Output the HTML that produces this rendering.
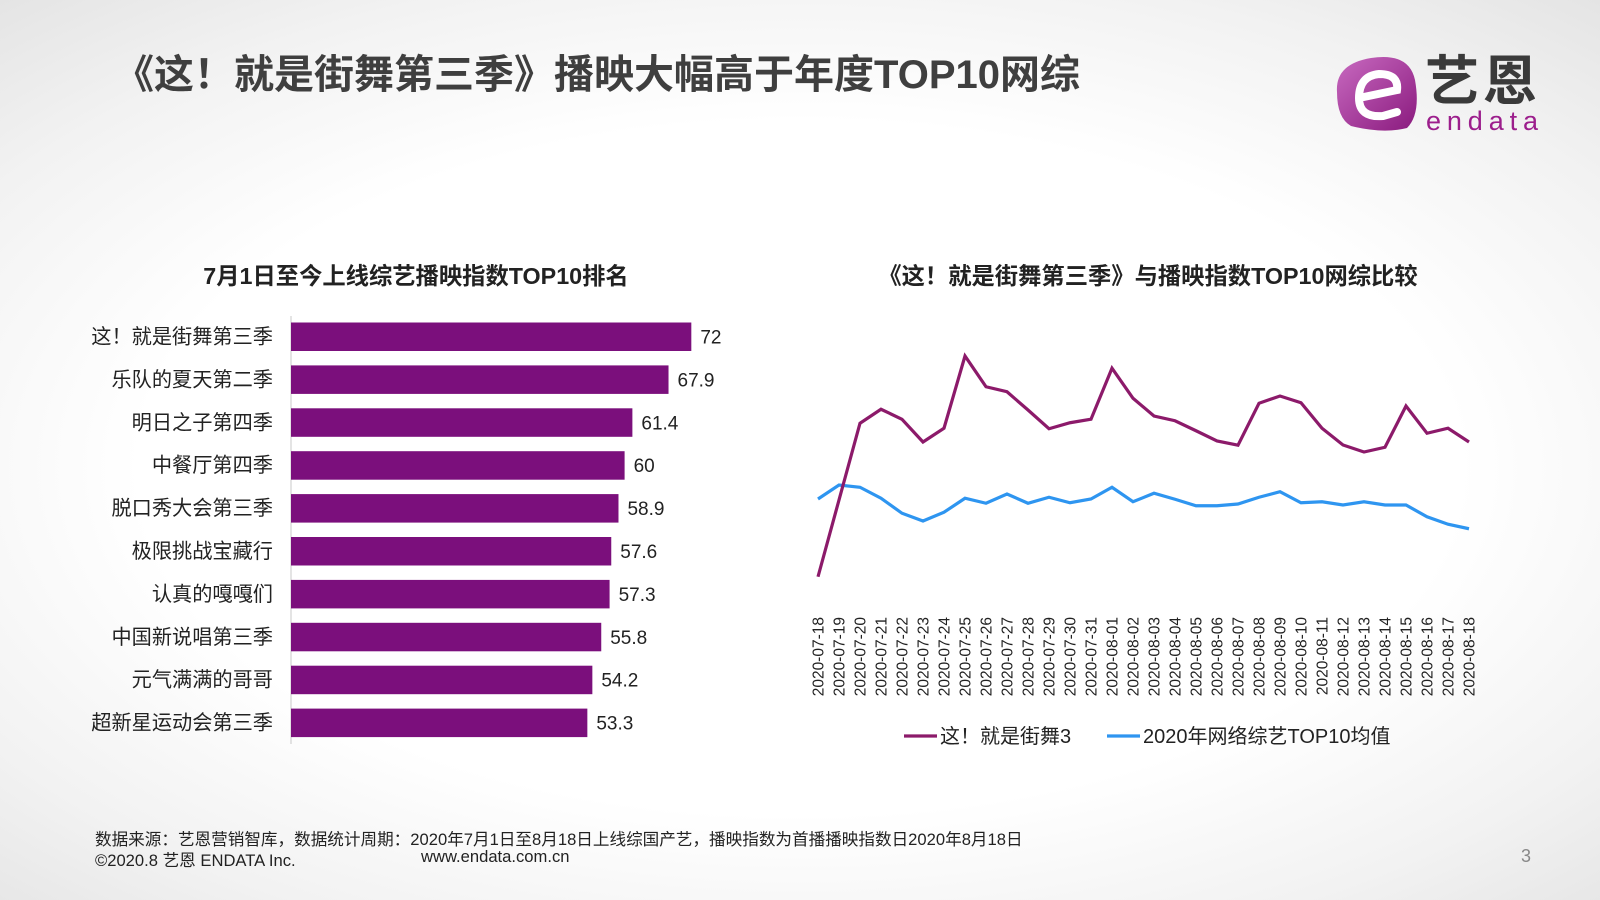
<!DOCTYPE html>
<html><head><meta charset="utf-8">
<style>
html,body{margin:0;padding:0}
body{width:1600px;height:900px;overflow:hidden;position:relative;font-family:"Liberation Sans","Noto Sans CJK SC",sans-serif;
background:radial-gradient(ellipse 75% 70% at 50% 52%,#ffffff 55%,#f2f2f2 80%,#e4e4e4 100%);}
.abs{position:absolute}
</style></head>
<body>
<div class="abs" style="left:114px;top:42px;font-size:40px;font-weight:bold;color:#3f3f3f;white-space:nowrap">《这！就是街舞第三季》播映大幅高于年度TOP10网综</div>

<svg class="abs" style="left:1333px;top:50px" width="220" height="90" viewBox="0 0 220 90">
  <defs><linearGradient id="lg" x1="0" y1="0" x2="1" y2="1"><stop offset="0" stop-color="#c86ac0"/><stop offset="1" stop-color="#8a1a7e"/></linearGradient></defs>
  <path d="M4 42 Q2 14 38 8 Q76 2 82 30 Q88 64 74 78 Q50 84 18 76 Q4 68 4 42Z" fill="url(#lg)"/>
  <path d="M26 48 L64 40 Q66 24 46 24 Q26 26 26 48 Q26 68 50 66 L64 62" fill="none" stroke="#fff" stroke-width="8" stroke-linecap="round"/>
  <text x="92" y="50" font-size="54" font-weight="bold" fill="#3a3a3a" font-family="Noto Sans CJK SC, sans-serif" textLength="112">艺恩</text>
  <text x="93" y="80" font-size="27" fill="#9c1e8c" font-family="Liberation Sans, sans-serif" textLength="112">endata</text>
</svg>

<div class="abs" style="left:166px;top:257px;width:500px;text-align:center;font-size:23.3px;font-weight:bold;color:#222">7月1日至今上线综艺播映指数TOP10排名</div>
<div class="abs" style="left:798px;top:257px;width:700px;text-align:center;font-size:23.3px;font-weight:bold;color:#222">《这！就是街舞第三季》与播映指数TOP10网综比较</div>

<svg class="abs" id="bar" style="left:0;top:0" width="800" height="760"></svg>
<svg class="abs" id="line" style="left:780px;top:300px" width="720" height="460"></svg>

<div class="abs" style="left:95px;top:826px;font-size:16.6px;color:#222;white-space:nowrap">数据来源：艺恩营销智库，数据统计周期：2020年7月1日至8月18日上线综国产艺，播映指数为首播播映指数日2020年8月18日</div>
<div class="abs" style="left:95px;top:847px;font-size:16.6px;color:#222;white-space:nowrap">©2020.8 艺恩 ENDATA Inc.</div>
<div class="abs" style="left:421px;top:847px;font-size:16.6px;color:#222">www.endata.com.cn</div>
<div class="abs" style="left:1521px;top:846px;font-size:18px;color:#888">3</div>

<script>
const barCategories=["这！就是街舞第三季","乐队的夏天第二季","明日之子第四季","中餐厅第四季","脱口秀大会第三季","极限挑战宝藏行","认真的嘎嘎们","中国新说唱第三季","元气满满的哥哥","超新星运动会第三季"];
const barValues=[72,67.9,61.4,60,58.9,57.6,57.3,55.8,54.2,53.3];
const barLabels=["72","67.9","61.4","60","58.9","57.6","57.3","55.8","54.2","53.3"];

const dates=["2020-07-18","2020-07-19","2020-07-20","2020-07-21","2020-07-22","2020-07-23","2020-07-24","2020-07-25","2020-07-26","2020-07-27","2020-07-28","2020-07-29","2020-07-30","2020-07-31","2020-08-01","2020-08-02","2020-08-03","2020-08-04","2020-08-05","2020-08-06","2020-08-07","2020-08-08","2020-08-09","2020-08-10","2020-08-11","2020-08-12","2020-08-13","2020-08-14","2020-08-15","2020-08-16","2020-08-17","2020-08-18"];
const streetDance=[9.3,40,70.7,76.3,72.3,63.2,68.7,97.6,85.3,83.3,76,68.5,70.9,72.3,92.7,80.7,73.6,71.7,67.7,63.6,61.9,78.7,81.6,78.9,68.7,62,59.2,61.1,77.6,66.7,68.7,63.2];
const top10Avg=[40.4,46,45.1,40.7,34.7,31.6,35.1,40.7,38.7,42.4,38.7,41.1,38.9,40.4,45.1,39.3,42.7,40.3,37.7,37.7,38.4,41.1,43.3,38.9,39.3,38,39.3,38,38,33.3,30.3,28.5];
const legendNames=["这！就是街舞3","2020年网络综艺TOP10均值"];

const NS="http://www.w3.org/2000/svg";
function mk(p,tag,attrs){const e=document.createElementNS(NS,tag);for(const k in attrs)e.setAttribute(k,attrs[k]);p.appendChild(e);return e;}

const bar=document.getElementById('bar');
const bx=v=>291+v*5.56;
const by=i=>322.5+i*42.9;
const ax=mk(bar,'line',{x1:291,y1:316,x2:291,y2:744,stroke:'#c8c8c8','stroke-width':1});


barCategories.forEach((c,i)=>{
  const r=mk(bar,'rect',{x:bx(0),y:by(i),width:bx(barValues[i])-bx(0),height:28.5,fill:'#7b0f7c'});
  
  
  const t=mk(bar,'text',{x:273,y:by(i)+21,'text-anchor':'end','font-size':20.2,fill:'#222'});
  t.textContent=c;
  
  
  const v=mk(bar,'text',{x:bx(barValues[i])+9,y:by(i)+21,'font-size':19,fill:'#222'});
  v.textContent=barLabels[i];
  
  
});

const line=document.getElementById('line');
const lx=i=>38+i*21.0;
const ly=v=>300-v*2.5;
function series(vals,color,name){
  const p=mk(line,'polyline',{points:vals.map((v,i)=>lx(i)+','+ly(v)).join(' '),fill:'none',stroke:color,'stroke-width':3.2,'stroke-linejoin':'miter'});
  
  
}
series(top10Avg,'#2e95f0','series-top10-average');
series(streetDance,'#8c1a6a','series-street-dance-3');
dates.forEach((d,i)=>{
  const t=mk(line,'text',{transform:`translate(${lx(i)+5.5},${317}) rotate(-90)`,'text-anchor':'end','font-size':15.5,fill:'#222'});
  t.textContent=d;
  
  
});
const lg=[[124,'#8c1a6a',legendNames[0]],[327,'#2e95f0',legendNames[1]]];
lg.forEach(([x,c,n],k)=>{
  const l=mk(line,'line',{x1:x,y1:436,x2:x+33,y2:436,stroke:c,'stroke-width':3.2});
  
  
  const t=mk(line,'text',{x:x+36,y:443,'font-size':20,fill:'#222'});
  t.textContent=n;
  
  
});
</script>
</body></html>
